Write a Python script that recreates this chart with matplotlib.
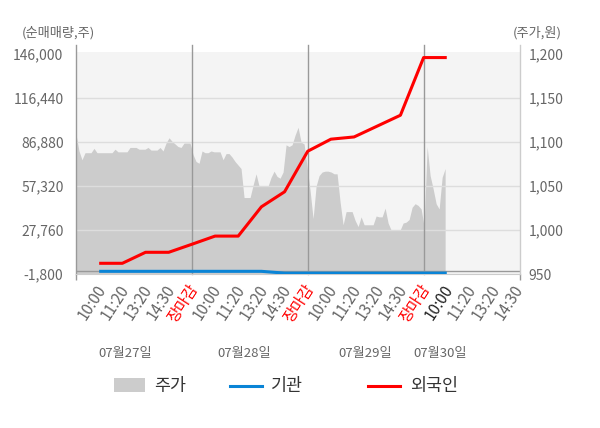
import matplotlib
matplotlib.use("Agg")
import matplotlib.pyplot as plt
from matplotlib.patches import Rectangle
from matplotlib.lines import Line2D
from matplotlib.transforms import ScaledTranslation
import numpy as np

plt.rcParams['font.family'] = ['Noto Sans CJK KR', 'DejaVu Sans']

# x categories (evenly spaced slots)
time_labels = ['10:00', '11:20', '13:20', '14:30', '장마감'] * 3 + ['10:00', '11:20', '13:20', '14:30']
dates = ['07월27일', '07월28일', '07월29일', '07월30일']

# net buying (shares), one value per slot up to the current time
foreign = [5400, 5400, 12800, 12800, 18200, 23700, 23700, 43400,
           53500, 80800, 88900, 90400, 97700, 105000, 143800, 143800]
inst = [0, 0, 0, 0, 0, 0, 0, 0,
        -1200, -1200, -1200, -1200, -1200, -1200, -1200, -1200]

price = [1109, 1090, 1080, 1088, 1088, 1088, 1093, 1088, 1088, 1088, 1088, 1088, 1088,
         1092, 1089, 1089, 1089, 1089, 1094, 1094, 1094, 1092, 1092, 1092, 1094, 1091,
         1091, 1091, 1094, 1090, 1099, 1105, 1101, 1098, 1095, 1094, 1099, 1099, 1099,
         1086, 1078, 1076, 1090, 1088, 1088, 1090, 1089, 1089, 1089, 1080, 1087, 1087,
         1083, 1078, 1074, 1070, 1037, 1037, 1037, 1051, 1064, 1050, 1050, 1050, 1050,
         1060, 1067, 1061, 1059, 1066, 1097, 1095, 1097, 1108, 1117, 1100, 1098, 1072,
         1045, 1013, 1050, 1062, 1066, 1067, 1067, 1066, 1064, 1064, 1032, 1006, 1021,
         1021, 1021, 1011, 1004, 1015, 1006, 1006, 1006, 1006, 1016, 1015, 1015, 1025,
         1008, 1000, 1000, 1000, 1000, 1008, 1009, 1012, 1026, 1030, 1028, 1024, 1004,
         1095, 1062, 1047, 1030, 1024, 1060, 1070]

left_ticks = [-1800, 27760, 57320, 86880, 116440, 146000]
right_ticks = [950, 1000, 1050, 1100, 1150, 1200]

GREY = '#cccccc'
BLUE = '#0a84d6'
RED = '#ff0000'
TXT = '#666666'

fig = plt.figure(figsize=(6.0, 4.28), dpi=100)
rect = [76 / 600, 1 - 274 / 428, 444 / 600, 222 / 428]
ax = fig.add_axes(rect)
axp = ax.twinx()
axp.set_zorder(ax.get_zorder() - 1)
ax.patch.set_visible(False)
axp.patch.set_visible(True)
axp.patch.set_facecolor('#f4f4f4')

xmin, xmax = -1, 18.16
px = np.linspace(-1, 14.93, len(price))
axp.fill_between(px, 950, price, color=GREY, linewidth=0, zorder=1)
for v in right_ticks[1:-1]:
    axp.axhline(v, color='#dddddd', lw=1, zorder=2)

# day separators, left / right frame lines (reach a bit above the plot)
tr = ax.get_xaxis_transform()
for xs in [4, 9, 14]:
    ax.plot([xs, xs], [0, 1.032], color='#999999', lw=1, transform=tr, clip_on=False, zorder=1)
ax.plot([xmin, xmin], [0, 1.032], color='#999999', lw=1, transform=tr, clip_on=False)
ax.plot([xmax, xmax], [0, 1.032], color='#cccccc', lw=1, transform=tr, clip_on=False)
ax.axhline(0, color='#999999', lw=1, zorder=1)

xi = np.arange(len(foreign))
ax.plot(xi, inst, color=BLUE, lw=2.2, zorder=3, solid_capstyle='butt')
ax.plot(xi, foreign, color=RED, lw=2.2, zorder=4, solid_capstyle='butt')

ax.set_xlim(xmin, xmax)
ax.set_ylim(-1800, 147545)
axp.set_ylim(950, 1202.6)

for a in (ax, axp):
    for s in a.spines.values():
        s.set_visible(False)
ax.spines['bottom'].set_visible(True)
ax.spines['bottom'].set_color('#cccccc')

ax.set_yticks(left_ticks)
ax.set_yticklabels([f'{v:,}' for v in left_ticks])
ax.tick_params(axis='y', length=0, pad=9, labelsize=10, labelcolor=TXT)
axp.set_yticks(right_ticks)
axp.set_yticklabels([f'{v:,}' for v in right_ticks])
axp.tick_params(axis='y', length=0, pad=6, labelsize=10, labelcolor=TXT)

ax.set_xticks(range(len(time_labels)))
ax.set_xticklabels(time_labels, rotation=57, ha='right', rotation_mode='anchor')
ax.tick_params(axis='x', which='major', length=0, pad=4, labelsize=11)
shift = ScaledTranslation(-4 / 100, -2 / 100, fig.dpi_scale_trans)
for i, lab in enumerate(ax.get_xticklabels()):
    lab.set_transform(lab.get_transform() + shift)
    if time_labels[i] == '장마감':
        lab.set_color(RED)
    elif i == 15:
        lab.set_color('#222222')
    else:
        lab.set_color(TXT)
ax.set_xticks([xmin, 4, 9, 14, xmax], minor=True)
ax.tick_params(axis='x', which='minor', length=4, color='#999999', width=1)

fig.text(22 / 600, 1 - 33 / 428, '(순매매량,주)', fontsize=9.5, color=TXT, va='center', ha='left')
fig.text(562 / 600, 1 - 33 / 428, '(주가,원)', fontsize=9.5, color=TXT, va='center', ha='right')

for d, xpix in zip(dates, [125, 244, 365, 440]):
    fig.text(xpix / 600, 1 - 354 / 428, d, fontsize=9.5, color=TXT, ha='center', va='center')

# legend drawn by hand
ly = 1 - 386 / 428
fig.add_artist(Rectangle((114 / 600, 1 - 392 / 428), 31 / 600, 14 / 428,
                         transform=fig.transFigure, color=GREY, lw=0))
fig.text(154 / 600, ly, '주가', fontsize=12.5, color='#333333', va='center')
fig.add_artist(Line2D([230 / 600, 262 / 600], [ly, ly], transform=fig.transFigure, color=BLUE, lw=2.2))
fig.text(271 / 600, ly, '기관', fontsize=12.5, color='#333333', va='center')
fig.add_artist(Line2D([368 / 600, 400 / 600], [ly, ly], transform=fig.transFigure, color=RED, lw=2.2))
fig.text(410 / 600, ly, '외국인', fontsize=12.5, color='#333333', va='center')

fig.savefig('out.png', dpi=100)
